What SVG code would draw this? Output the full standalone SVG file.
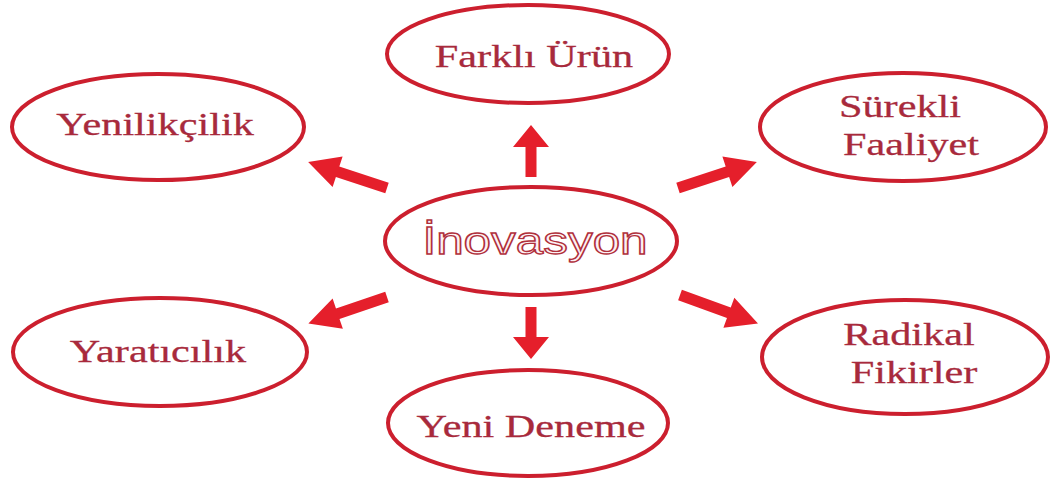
<svg xmlns="http://www.w3.org/2000/svg" width="1050" height="481" viewBox="0 0 1050 481">
  <style>
    .oval { fill: #ffffff; stroke: #cc1f2e; stroke-width: 4; }
    .label { font-family: "Liberation Serif", "Times New Roman", serif; font-size: 32px; fill: #a82a3c; stroke: #a82a3c; stroke-width: 0.3; }
    .hub { font-family: "Liberation Sans", Arial, sans-serif; font-size: 38px; fill: #fdf1f3; stroke: #b0303c; stroke-width: 1.3; }
    .arrow { fill: #e51f2b; }
  </style>
  <defs>
    <path id="diag" d="M0,-5.5 L52,-5.5 L52,-16 L83,0 L52,16 L52,5.5 L0,5.5 Z"/>
    <path id="vert" d="M0,-5.5 L30,-5.5 L30,-18 L52,0 L30,18 L30,5.5 L0,5.5 Z"/>
  </defs>
  <rect width="1050" height="481" fill="#ffffff"/>

  <g id="connectors" class="arrow">
    <use href="#vert" transform="translate(531,177) rotate(-90)"/>
    <use href="#vert" transform="translate(531,307) rotate(90)"/>
    <use href="#diag" transform="translate(387,188) rotate(198.2)"/>
    <use href="#diag" transform="translate(678,188) rotate(-18.2)"/>
    <use href="#diag" transform="translate(387,297) rotate(161.3)"/>
    <use href="#diag" transform="translate(680,295) rotate(20)"/>
  </g>

  <!-- labels are set in a horizontally widened face -->
  <g id="node-inovasyon">
    <ellipse class="oval" cx="531" cy="241" rx="146" ry="54"/>
    <text class="hub" text-anchor="middle" transform="translate(535,254) scale(1.3,1)">İnovasyon</text>
  </g>

  <g id="node-farkli-urun">
    <ellipse class="oval" cx="528" cy="54" rx="141" ry="49"/>
    <text class="label" text-anchor="middle" transform="translate(534,67) scale(1.32,1)">Farklı Ürün</text>
  </g>

  <g id="node-yenilikcilik">
    <ellipse class="oval" cx="158" cy="127" rx="146" ry="53"/>
    <text class="label" text-anchor="middle" transform="translate(155,135) scale(1.32,1)">Yenilikçilik</text>
  </g>

  <g id="node-surekli-faaliyet">
    <ellipse class="oval" cx="903" cy="127" rx="143" ry="54"/>
    <text class="label" text-anchor="middle" transform="translate(900,117) scale(1.32,1)">Sürekli</text>
    <text class="label" text-anchor="middle" transform="translate(911,155) scale(1.32,1)">Faaliyet</text>
  </g>

  <g id="node-yaraticilik">
    <ellipse class="oval" cx="160" cy="352" rx="147" ry="54"/>
    <text class="label" text-anchor="middle" transform="translate(158,362) scale(1.32,1)">Yaratıcılık</text>
  </g>

  <g id="node-radikal-fikirler">
    <ellipse class="oval" cx="905" cy="357" rx="143" ry="57"/>
    <text class="label" text-anchor="middle" transform="translate(909,345) scale(1.32,1)">Radikal</text>
    <text class="label" text-anchor="middle" transform="translate(914,383) scale(1.32,1)">Fikirler</text>
  </g>

  <g id="node-yeni-deneme">
    <ellipse class="oval" cx="528" cy="423" rx="140" ry="53"/>
    <text class="label" text-anchor="middle" transform="translate(531,437) scale(1.32,1)">Yeni Deneme</text>
  </g>
</svg>
